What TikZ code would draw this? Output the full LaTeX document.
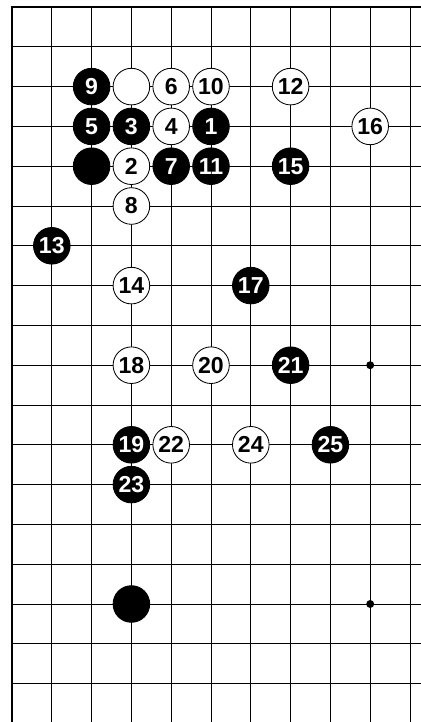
\documentclass[tikz,border=0pt]{standalone}
\usepackage{fontspec}
\setsansfont{Liberation Sans}
\usetikzlibrary{positioning}
\tikzset{
  stone/.style={circle,draw=black,line width=0.6pt,minimum size=0.92cm,inner sep=0pt,
    font=\sffamily\bfseries\fontsize{16.5}{17}\selectfont},
  bstone/.style={stone,fill=black,text=white},
  wstone/.style={stone,fill=white,text=black},
  hoshi/.style={circle,fill=black,inner sep=0pt,minimum size=0.2cm},
  gridline/.style={line width=0.6pt},
  edgeline/.style={line width=1.8pt}
}
\begin{document}
\begin{tikzpicture}
    \useasboundingbox (-0.3015,0.176) rectangle (10.276,-17.965);
    %% board lines
    \foreach \i in {1,...,10}
        \draw[gridline] (\i,0)--(\i,-17.965);
    \foreach \j in {1,...,17}
        \draw[gridline] (0,-\j)--(10.276,-\j);
    \draw[edgeline] (0,-17.965)--(0,0)--(10.276,0);
    %% hoshi
    \node[hoshi] (h1) at (9,-9) {};
    \node[hoshi] (h2) at (9,-15) {};
    %% stones
    \node[bstone] (m9) at (2,-2) {9};
    \node[wstone] (wa) at (3,-2) {};
    \node[wstone] (m6) at (4,-2) {6};
    \node[wstone] (m10) at (5,-2) {10};
    \node[wstone] (m12) at (7,-2) {12};
    %%
    \node[bstone] (m5) at (2,-3) {5};
    \node[bstone] (m3) at (3,-3) {3};
    \node[wstone] (m4) at (4,-3) {4};
    \node[bstone] (m1) at (5,-3) {1};
    \node[wstone] (m16) at (9,-3) {16};
    %%
    \node[bstone] (ba) at (2,-4) {};
    \node[wstone] (m2) at (3,-4) {2};
    \node[bstone] (m7) at (4,-4) {7};
    \node[bstone] (m11) at (5,-4) {11};
    \node[bstone] (m15) at (7,-4) {15};
    %%
    \node[wstone] (m8) at (3,-5) {8};
    \node[bstone] (m13) at (1,-6) {13};
    \node[wstone] (m14) at (3,-7) {14};
    \node[bstone] (m17) at (6,-7) {17};
    %%
    \node[wstone] (m18) at (3,-9) {18};
    \node[wstone] (m20) at (5,-9) {20};
    \node[bstone] (m21) at (7,-9) {21};
    %%
    \node[bstone] (m19) at (3,-11) {19};
    \node[wstone] (m22) at (4,-11) {22};
    \node[wstone] (m24) at (6,-11) {24};
    \node[bstone] (m25) at (8,-11) {25};
    \node[bstone] (m23) at (3,-12) {23};
    %%
    \node[bstone] (bb) at (3,-15) {};
\end{tikzpicture}
\end{document}
